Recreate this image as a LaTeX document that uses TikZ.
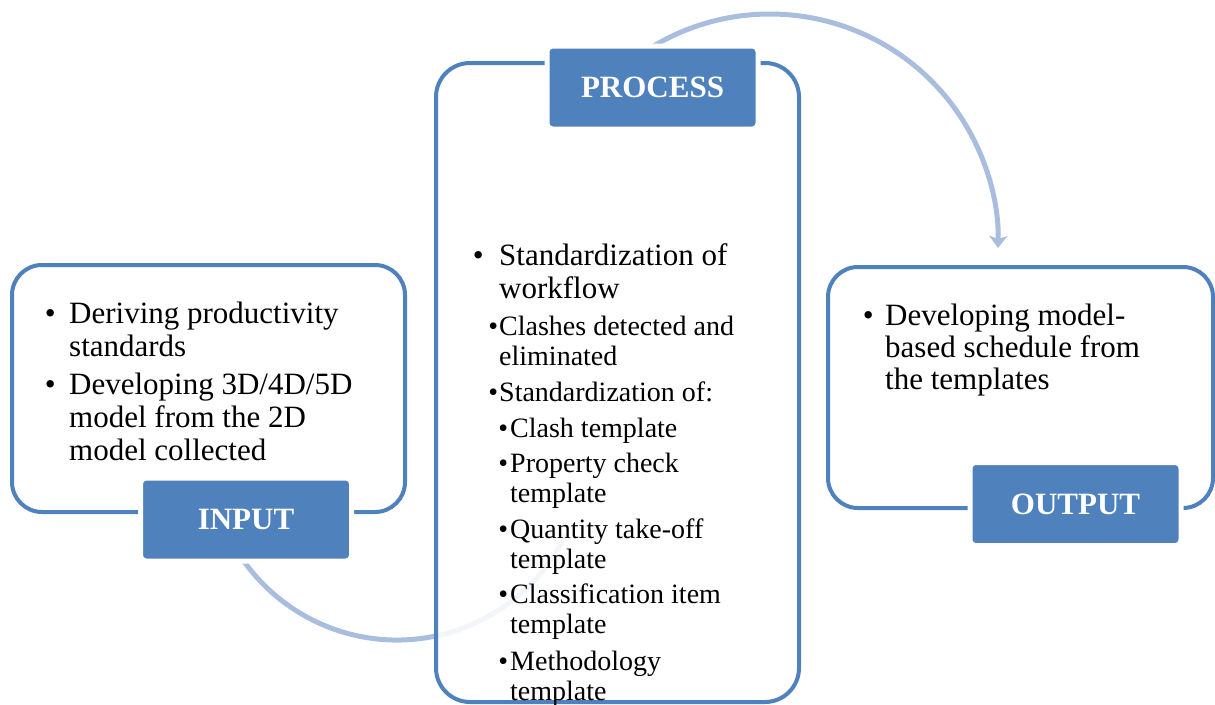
\documentclass[tikz,border=0pt]{standalone}
\usepackage{fontspec}
\setmainfont{Liberation Serif}
\usetikzlibrary{arrows.meta}
\definecolor{accent}{HTML}{4F81BD}
\definecolor{arcblue}{HTML}{A9BEDE}
\newcommand{\bul}[1]{\llap{\textbullet\hspace{#1}}}
\begin{document}
\begin{tikzpicture}[x=1pt,y=-1pt,
  panel/.style={draw=accent, line width=4pt, rounded corners=30pt, fill=white, inner sep=0pt},
  tag/.style={fill=accent, draw=white, line width=5pt, rounded corners=6pt, minimum width=211pt, minimum height=83pt, inner sep=0pt, text=white, font=\fontsize{31}{33}\selectfont\bfseries},
  lvla/.style={anchor=base west, align=left, inner sep=0pt, font=\fontsize{31}{33}\selectfont},
  lvlo/.style={anchor=base west, align=left, inner sep=0pt, font=\fontsize{31}{32}\selectfont},
  lvlb/.style={anchor=base west, align=left, inner sep=0pt, font=\fontsize{28}{30}\selectfont},
  cyc/.style={draw=arcblue, line width=5pt}]
\useasboundingbox (0,0) rectangle (1215,704);

% cycle arcs
\coordinate (c1s) at (652.6,46.6);
\draw[cyc, -{Stealth[length=12pt,width=18pt,inset=3pt]}] (c1s) arc[start angle=-121, end angle=1.5, radius=228];
\coordinate (c2s) at (220.3,516.3);
\draw[cyc] (c2s) arc[start angle=160, end angle=26, radius=188];

% panels
\node[panel, minimum width=393pt, minimum height=247pt] (inbox) at (208.5,388.5) {};
\node[panel, minimum width=385pt, minimum height=241pt] (outbox) at (1020.5,387.5) {};
\node[panel, rounded corners=34pt, fill opacity=0.85, minimum width=363pt, minimum height=639pt] (procbox) at (617.5,382.5) {};

% labels
\node[tag] (inlab) at (246,519.5) {INPUT};
\node[tag] (proclab) at (652.5,87.5) {PROCESS};
\node[tag] (outlab) at (1075.5,504) {OUTPUT};

% input text (anchored at the baseline of the last line)
\node[lvla] (in1) at (69,356) {\bul{13.5pt}Deriving productivity\\standards};
\node[lvla] (in2) at (69,460) {\bul{13.5pt}Developing 3D/4D/5D\\model from the 2D\\model collected};

% process text
\node[lvla] (p1) at (499,298) {\bul{15.5pt}Standardization of\\workflow};
\node[lvlb] (p2) at (499,365) {\bul{1pt}Clashes detected and\\eliminated};
\node[lvlb] (p3) at (499,401) {\bul{1pt}Standardization of:};
\node[lvlb] (p4) at (510,437) {\bul{2pt}Clash template};
\node[lvlb] (p5) at (510,502) {\bul{2pt}Property check\\template};
\node[lvlb] (p6) at (510,568) {\bul{2pt}Quantity take-off\\template};
\node[lvlb] (p7) at (510,633) {\bul{2pt}Classification item\\template};
\node[lvlb] (p8) at (510,700) {\bul{2pt}Methodology\\template};

% output text
\node[lvlo] (o1) at (885,389) {\bul{11.5pt}Developing model-\\based schedule from\\the templates};
\end{tikzpicture}
\end{document}
